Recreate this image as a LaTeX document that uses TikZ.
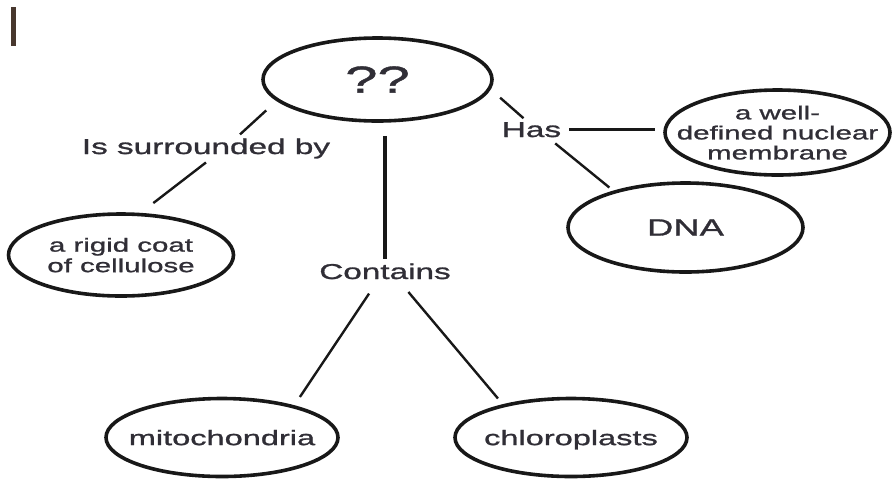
\documentclass[tikz,border=0pt]{standalone}
\usepackage{fontspec}
\usepackage{xcolor}
\usepackage{tikz}
\usetikzlibrary{shapes.geometric}
\newfontfamily\mapfont{Liberation Sans}[FakeStretch=1.55,FakeBold=1.2]
\definecolor{inkgray}{RGB}{48, 46, 54}
\definecolor{linedark}{RGB}{24, 24, 24}
\definecolor{scanbrown}{RGB}{72, 56, 46}
\tikzset{
  oval/.style={draw=linedark,ellipse,line width=3.6pt,inner xsep=-30pt,
               inner ysep=0pt,text=inkgray,align=center,text depth=0pt},
  lbl/.style={text=inkgray,inner sep=1pt,outer sep=3pt,anchor=base,
              font=\mapfont\fontsize{21.5}{24}\selectfont},
  link/.style={draw=linedark,line width=2.4pt},
}

\begin{document}
\begin{tikzpicture}[x=1pt,y=-1pt]
        \useasboundingbox (0,0) rectangle (893,480);
        \fill[scanbrown] (10.5,7) rectangle (15.5,46);
        \node[oval,minimum width=229pt,minimum height=83pt,
              font=\mapfont\fontsize{37.5}{40}\selectfont]
              (qq) at (377.5,79.5) {??};
        \node[lbl] (surr) at (206,154) {Is surrounded by};
        \node[oval,minimum width=225pt,minimum height=82pt,
              font=\mapfont\fontsize{19}{20.5}\selectfont]
              (coat) at (121,255) {a rigid coat\\of cellulose};
        \node[lbl] (cont) at (385,279) {Contains};
        \node[oval,minimum width=232pt,minimum height=78pt,
              font=\mapfont\fontsize{21}{24}\selectfont]
              (mito) at (222,437.5) {mitochondria};
        \node[oval,minimum width=232pt,minimum height=78pt,
              font=\mapfont\fontsize{21}{24}\selectfont]
              (chlo) at (571,437.5) {chloroplasts};
        \node[lbl] (has) at (531.5,137) {Has};
        \node[oval,minimum width=225pt,minimum height=85pt,
              font=\mapfont\fontsize{19}{20}\selectfont]
              (memb) at (777.5,132.5) {a well-\\defined nuclear\\membrane};
        \node[oval,minimum width=235pt,minimum height=89pt,
              font=\mapfont\fontsize{23.5}{26}\selectfont]
              (dna) at (685.5,227.5) {DNA};
        \draw[link,shorten <=14pt](qq.192)--([xshift=34pt]surr.north);
        \draw[link,shorten >=16pt](surr.south)--(coat.65);
        \draw[link,line width=4pt,shorten <=13pt](qq.south -| cont.north)--(cont.north);
        \draw[link,shorten <=12.5pt,shorten >=10pt]([xshift=-9pt]cont.south)--(mito.24);
        \draw[link,shorten <=11.5pt,shorten >=7.5pt]([xshift=16pt]cont.south)--(chlo.154);
        \draw[link,shorten <=12.5pt](qq.-5)--([xshift=-8pt]has.north);
        \draw[link,line width=3.4pt,shorten <=4pt,shorten >=8pt](has.east)--(has.east -| memb.west);
        \draw[link,shorten <=3.5pt,shorten >=5pt]([xshift=21pt]has.south)--(dna.153);
      \end{tikzpicture}
\end{document}
